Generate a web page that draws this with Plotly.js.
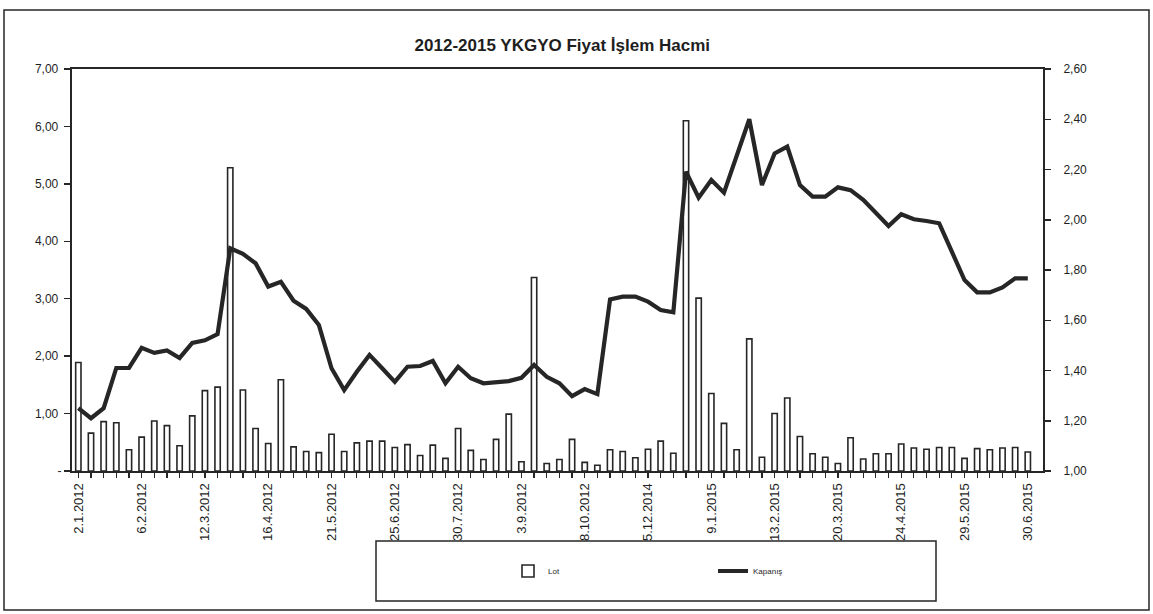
<!DOCTYPE html>
<html>
<head>
<meta charset="utf-8">
<script src="https://cdn.plot.ly/plotly-3.0.1.min.js"></script>
<style>html,body{margin:0;padding:0;background:#fff;}#chart{width:1153px;height:614px;}</style>
</head>
<body>
<div id="chart"></div>
<script>
// Weekly trading volume (Lot, left axis, millions) and closing price (Kapanış, right axis)
const lot = [
  1.89, 0.66, 0.86, 0.84, 0.37, 0.59, 0.87, 0.79, 0.44, 0.96,
  1.40, 1.46, 5.28, 1.41, 0.74, 0.48, 1.59, 0.42, 0.34, 0.32,
  0.64, 0.34, 0.49, 0.52, 0.52, 0.41, 0.46, 0.27, 0.45, 0.22,
  0.74, 0.36, 0.20, 0.55, 0.99, 0.16, 3.37, 0.13, 0.20, 0.55,
  0.15, 0.10, 0.37, 0.34, 0.23, 0.38, 0.52, 0.31, 6.10, 3.01,
  1.35, 0.83, 0.37, 2.30, 0.24, 1.00, 1.27, 0.60, 0.30, 0.24,
  0.13, 0.58, 0.21, 0.30, 0.30, 0.47, 0.40, 0.38, 0.41, 0.41,
  0.22, 0.39, 0.37, 0.40, 0.41, 0.33
];
const kapanis = [
  1.25, 1.21, 1.25, 1.41, 1.41, 1.49, 1.47, 1.48, 1.45, 1.51,
  1.52, 1.545, 1.886, 1.864, 1.827, 1.734, 1.753, 1.678, 1.645, 1.581,
  1.409, 1.322, 1.395, 1.462, 1.409, 1.355, 1.415, 1.418, 1.438, 1.349,
  1.415, 1.369, 1.349, 1.355, 1.358, 1.371, 1.422, 1.375, 1.349, 1.298,
  1.326, 1.306, 1.683, 1.694, 1.694, 1.674, 1.641, 1.632, 2.191, 2.088,
  2.158, 2.108, 2.258, 2.400, 2.138, 2.264, 2.291, 2.138, 2.092, 2.092,
  2.129, 2.118, 2.079, 2.026, 1.975, 2.022, 2.002, 1.995, 1.986, 1.873,
  1.760, 1.711, 1.711, 1.731, 1.767, 1.767
];
// Date labels shown under every fifth week
const tickLabels = [
  '2.1.2012', '6.2.2012', '12.3.2012', '16.4.2012', '21.5.2012', '25.6.2012',
  '30.7.2012', '3.9.2012', '8.10.2012', '5.12.2014', '9.1.2015', '13.2.2015',
  '20.3.2015', '24.4.2015', '29.5.2015', '30.6.2015'
];
const leftTicks = [0, 1, 2, 3, 4, 5, 6, 7];
const rightTicks = [1.0, 1.2, 1.4, 1.6, 1.8, 2.0, 2.2, 2.4, 2.6];

const weeks = lot.map((_, i) => i);
const xText = weeks.map(i => (i % 5 === 0 ? tickLabels[i / 5] : ''));
const fmt = v => v.toFixed(2).replace('.', ',');

const W = 1153, H = 614, ML = 72, MR = 110, MT = 69, MB = 143;
const pw = W - ML - MR, ph = H - MT - MB;
const px = x => (x - ML) / pw;
const py = y => (H - MB - y) / ph;

const ink = '#262626';
const font = 'Arial, "Liberation Sans", sans-serif';

const traces = [
  {
    type: 'bar', name: 'Lot', x: weeks, y: lot, yaxis: 'y',
    width: 0.42,
    marker: { color: '#ffffff', line: { color: ink, width: 1.6 } }
  },
  {
    type: 'scatter', mode: 'lines', name: 'Kapanış', x: weeks, y: kapanis, yaxis: 'y2',
    line: { color: ink, width: 4.2 }
  }
];

const layout = {
  width: W, height: H,
  margin: { l: ML, r: MR, t: MT, b: MB, pad: 0 },
  paper_bgcolor: '#ffffff', plot_bgcolor: '#ffffff',
  font: { family: font, color: ink, size: 12 },
  title: {
    text: '<b>2012-2015 YKGYO Fiyat İşlem Hacmi</b>',
    font: { family: font, size: 17, color: '#1e1e1e' },
    x: 0.505, xanchor: 'center', xref: 'paper',
    y: 1 - 45 / H, yanchor: 'middle', yref: 'container'
  },
  showlegend: true,
  legend: {
    orientation: 'h', x: px(508), xanchor: 'left', y: py(571), yanchor: 'middle',
    font: { family: font, size: 8, color: ink },
    entrywidth: 160, bgcolor: 'rgba(0,0,0,0)', borderwidth: 0
  },
  bargap: 0.6,
  xaxis: {
    type: 'linear', range: [-0.5, 76.2], tickmode: 'array', tickvals: weeks, ticktext: xText,
    tickangle: -90, ticks: 'outside', ticklen: 5, tickwidth: 1.2, tickcolor: ink,
    showline: true, linecolor: ink, linewidth: 2, mirror: true,
    showgrid: false, zeroline: false,
    tickfont: { family: font, size: 13, color: '#1e1e1e' }
  },
  yaxis: {
    range: [0, 7], tickmode: 'array', tickvals: leftTicks,
    ticktext: leftTicks.map(v => (v === 0 ? '-' : fmt(v) + '\u00a0')),
    ticks: 'outside', ticklen: 6, tickwidth: 1.5, tickcolor: ink,
    showline: true, linecolor: ink, linewidth: 2,
    showgrid: false, zeroline: false,
    tickfont: { family: font, size: 12, color: '#1e1e1e' }
  },
  yaxis2: {
    overlaying: 'y', side: 'right', range: [1, 2.6], tickmode: 'array', tickvals: rightTicks,
    ticktext: rightTicks.map(v => '\u00a0\u00a0\u00a0' + fmt(v)),
    ticks: 'outside', ticklen: 6, tickwidth: 1.5, tickcolor: ink,
    showline: true, linecolor: ink, linewidth: 2,
    showgrid: false, zeroline: false,
    tickfont: { family: font, size: 12, color: '#1e1e1e' }
  },
  shapes: [
    { type: 'rect', xref: 'paper', yref: 'paper',
      x0: px(4), x1: px(1149), y0: py(610), y1: py(10),
      line: { color: ink, width: 1.5 }, fillcolor: 'rgba(0,0,0,0)', layer: 'below' },
    { type: 'rect', xref: 'paper', yref: 'paper',
      x0: px(376), x1: px(936), y0: py(601), y1: py(541),
      line: { color: ink, width: 1.5 }, fillcolor: 'rgba(0,0,0,0)' }
  ]
};

Plotly.newPlot('chart', traces, layout, { displayModeBar: false, staticPlot: true });
</script>
</body>
</html>
